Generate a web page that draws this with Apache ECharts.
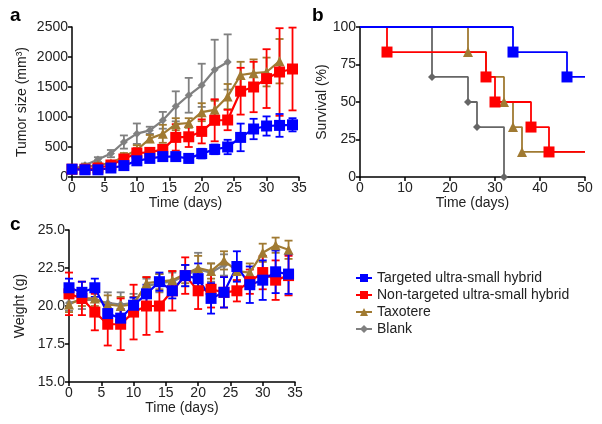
<!DOCTYPE html>
<html>
<head>
<meta charset="utf-8">
<script src="https://cdn.jsdelivr.net/npm/echarts@6/dist/echarts.min.js"></script>
<style>
  html, body { margin: 0; padding: 0; background: #fff; }
  #chart { width: 602px; height: 424px; }
</style>
</head>
<body>
<div id="chart"></div>
<script>
// ---- data ----
const names = ['Targeted ultra-small hybrid', 'Non-targeted ultra-small hybrid', 'Taxotere', 'Blank'];
const colors = ['#0000ff', '#ff0000', '#a07a32', '#808080'];

// panel a: tumor size (mm3), days 0..34 step 2
const daysA = [0, 2, 4, 6, 8, 10, 12, 14, 16, 18, 20, 22, 24, 26, 28, 30, 32, 34];
const tumorTargeted = [130, 120, 120, 150, 190, 270, 310, 340, 340, 310, 390, 460, 500, 660, 800, 850, 860, 870];
const tumorTargetedErr = [30, 30, 30, 30, 40, 50, 50, 60, 60, 70, 80, 80, 120, 230, 170, 160, 190, 110];
const tumorNonTargeted = [130, 130, 150, 200, 300, 400, 410, 460, 660, 670, 760, 945, 950, 1430, 1500, 1640, 1750, 1800];
const tumorNonTargetedErr = [20, 20, 30, 40, 50, 80, 60, 70, 220, 170, 200, 350, 170, 390, 420, 490, 730, 690];
const tumorTaxotere = [130, 170, 200, 230, 340, 450, 640, 720, 880, 900, 1080, 1120, 1340, 1700, 1730, 1750, 1930];
const tumorTaxotereErr = [20, 30, 30, 40, 60, 80, 60, 150, 100, 80, 150, 150, 210, 220, 230, 240, 370];
const tumorBlank = [130, 195, 290, 390, 583, 722, 778, 945, 1178, 1362, 1528, 1788, 1917];
const tumorBlankErr = [20, 30, 40, 60, 110, 170, 60, 140, 250, 290, 360, 500, 460];

// panel b: survival (%) steps [day, percent]
const survTargeted = [[0, 100], [34, 83.3], [46, 66.7], [50, 66.7]];
const survNonTargeted = [[0, 100], [6, 83.3], [28, 66.7], [30, 50], [38, 33.3], [42, 16.7], [50, 16.7]];
const survTaxotere = [[0, 100], [24, 83.3], [28, 66.7], [32, 50], [34, 33.3], [36, 16.7], [50, 16.7]];
const survBlank = [[0, 100], [16, 66.7], [24, 50], [26, 33.3], [32, 0]];

// panel c: weight (g), days 0..34 step 2
const daysC = daysA;
const weightTargeted = [21.2, 20.9, 21.2, 19.5, 19.2, 20.05, 20.8, 21.6, 21.0, 22.0, 21.8, 20.5, 20.9, 22.6, 21.4, 21.7, 22.25, 22.1];
const weightTargetedErr = [0.6, 0.7, 0.6, 0.6, 0.6, 0.5, 0.6, 0.6, 0.5, 0.7, 1.0, 1.0, 1.0, 1.0, 1.2, 1.3, 1.4, 1.3];
const weightNonTargeted = [20.8, 20.5, 19.6, 18.8, 18.8, 19.6, 20.0, 20.0, 21.0, 22.0, 21.0, 21.1, 20.9, 21.0, 21.6, 22.2, 21.7, 22.0];
const weightNonTargetedErr = [1.4, 1.1, 1.2, 1.4, 1.7, 1.8, 1.9, 1.7, 1.3, 1.2, 1.2, 1.2, 1.0, 0.7, 0.8, 1.1, 1.3, 1.3];
const weightTaxotere = [20.1, 20.5, 20.5, 20.1, 20.0, 20.1, 21.5, 21.6, 21.7, 22.1, 22.5, 22.3, 23.0, 22.3, 22.2, 23.5, 24.0, 23.7];
const weightTaxotereErr = [0.5, 0.5, 0.5, 0.6, 0.6, 0.5, 0.4, 0.5, 0.6, 0.6, 0.8, 0.5, 0.6, 0.6, 0.6, 0.6, 0.5, 0.6];
const weightBlank = [20.2, 20.4, 20.4, 20.2, 20.1, 20.2, 21.3, 21.5, 21.6, 22.0, 22.4, 22.2, 22.7];
const weightBlankErr = [0.5, 0.6, 0.6, 0.7, 0.8, 0.6, 0.5, 0.6, 0.6, 0.7, 1.1, 0.6, 0.7];

const symbols = ['rect', 'rect', 'triangle', 'diamond'];
const symSizes = [11, 11, 10, 8];

// ---- helpers ----
const font = 'Liberation Sans, Arial, sans-serif';
const txt = '#222';

function pairs(xs, ys) {
  return ys.map((v, i) => [xs[i], v]);
}
function errData(xs, ys, es) {
  return ys.map((v, i) => [xs[i], v - es[i], v + es[i]]);
}

function errBars(color, capW) {
  return function (params, api) {
    const x = api.value(0);
    const lo = api.coord([x, api.value(1)]);
    const hi = api.coord([x, api.value(2)]);
    const style = { stroke: color, lineWidth: 1.8, fill: null };
    return {
      type: 'group',
      children: [
        { type: 'line', shape: { x1: lo[0], y1: lo[1], x2: hi[0], y2: hi[1] }, style },
        { type: 'line', shape: { x1: lo[0] - capW, y1: lo[1], x2: lo[0] + capW, y2: lo[1] }, style },
        { type: 'line', shape: { x1: hi[0] - capW, y1: hi[1], x2: hi[0] + capW, y2: hi[1] }, style }
      ]
    };
  };
}

function axis(extra) {
  return Object.assign({
    type: 'value',
    axisLine: { show: true, lineStyle: { color: '#000', width: 1.5 } },
    axisTick: { show: true, length: 4, lineStyle: { color: '#000', width: 1.5 } },
    axisLabel: { color: txt, fontSize: 14, fontFamily: font, margin: 4, formatter: (v) => String(v) },
    splitLine: { show: false },
    nameTextStyle: { color: txt, fontSize: 14, fontFamily: font }
  }, extra);
}

const series = [];

// panel a and c: means + error bars
function addPanel(idx, xs, means, errs) {
  // draw order: blank, taxotere, non-targeted, targeted
  [3, 2, 1, 0].forEach((k) => {
    const x = xs.slice(0, means[k].length);
    series.push({
      type: 'line',
      name: names[k],
      xAxisIndex: idx, yAxisIndex: idx,
      data: pairs(x, means[k]),
      symbol: symbols[k],
      symbolSize: symSizes[k],
      showAllSymbol: true,
      lineStyle: { color: colors[k], width: 2.2 },
      itemStyle: { color: colors[k] },
      z: 3
    });
    series.push({
      type: 'custom',
      name: names[k],
      xAxisIndex: idx, yAxisIndex: idx,
      renderItem: errBars(colors[k], 4),
      encode: { x: 0, y: [1, 2] },
      data: errData(x, means[k], errs[k]),
      itemStyle: { color: colors[k] },
      z: 2,
      silent: true
    });
  });
}

addPanel(0, daysA,
  [tumorTargeted, tumorNonTargeted, tumorTaxotere, tumorBlank],
  [tumorTargetedErr, tumorNonTargetedErr, tumorTaxotereErr, tumorBlankErr]);

// panel b: step survival curves, markers only at drops
const surv = [survTargeted, survNonTargeted, survTaxotere, survBlank];
const survColors = ['#0000ff', '#ff0000', '#a07a32', '#666666'];
[3, 2, 1, 0].forEach((k) => {
  const d = surv[k];
  series.push({
    type: 'line',
    name: names[k],
    xAxisIndex: 1, yAxisIndex: 1,
    step: 'end',
    data: d.map((p, i) => ({
      value: p,
      symbolSize: (i === 0 || (i === d.length - 1 && k !== 3)) ? 0 : symSizes[k]
    })),
    symbol: symbols[k],
    showAllSymbol: true,
    lineStyle: { color: survColors[k], width: 1.8 },
    itemStyle: { color: survColors[k] },
    z: 3
  });
});

addPanel(2, daysC,
  [weightTargeted, weightNonTargeted, weightTaxotere, weightBlank],
  [weightTargetedErr, weightNonTargetedErr, weightTaxotereErr, weightBlankErr]);

const option = {
  backgroundColor: '#fff',
  animation: false,
  textStyle: { fontFamily: font },
  title: [
    { text: 'a', left: 5, top: 1, textStyle: { fontSize: 19, fontWeight: 'bold', color: '#000', fontFamily: font } },
    { text: 'b', left: 307, top: 1, textStyle: { fontSize: 19, fontWeight: 'bold', color: '#000', fontFamily: font } },
    { text: 'c', left: 5, top: 210, textStyle: { fontSize: 19, fontWeight: 'bold', color: '#000', fontFamily: font } }
  ],
  legend: {
    orient: 'vertical',
    left: 355,
    top: 271,
    padding: 0,
    itemWidth: 16,
    itemHeight: 10,
    itemGap: 3,
    data: names,
    textStyle: { color: txt, fontSize: 14, fontFamily: font },
    selectedMode: false
  },
  grid: [
    { left: 72, top: 27, width: 227, height: 150 },
    { left: 360, top: 27, width: 225, height: 150 },
    { left: 69, top: 230, width: 226, height: 152 }
  ],
  xAxis: [
    axis({ gridIndex: 0, min: 0, max: 35, interval: 5, name: 'Time (days)', nameLocation: 'middle', nameGap: 19 }),
    axis({ gridIndex: 1, min: 0, max: 50, interval: 10, name: 'Time (days)', nameLocation: 'middle', nameGap: 19 }),
    axis({ gridIndex: 2, min: 0, max: 35, interval: 5, name: 'Time (days)', nameLocation: 'middle', nameGap: 18 })
  ],
  yAxis: [
    axis({ gridIndex: 0, min: 0, max: 2500, interval: 500, name: 'Tumor size (mm³)', nameLocation: 'middle', nameGap: 43 }),
    axis({ gridIndex: 1, min: 0, max: 100, interval: 25, name: 'Survival (%)', nameLocation: 'middle', nameGap: 29 }),
    axis({ gridIndex: 2, min: 15, max: 25, interval: 2.5, name: 'Weight (g)', nameLocation: 'middle', nameGap: 42,
      axisLabel: { color: txt, fontSize: 14, fontFamily: font, margin: 4, formatter: (v) => v.toFixed(1) } })
  ],
  series: series
};

const myChart = echarts.init(document.getElementById('chart'), null, { renderer: 'canvas' });
myChart.setOption(option);
</script>
</body>
</html>
